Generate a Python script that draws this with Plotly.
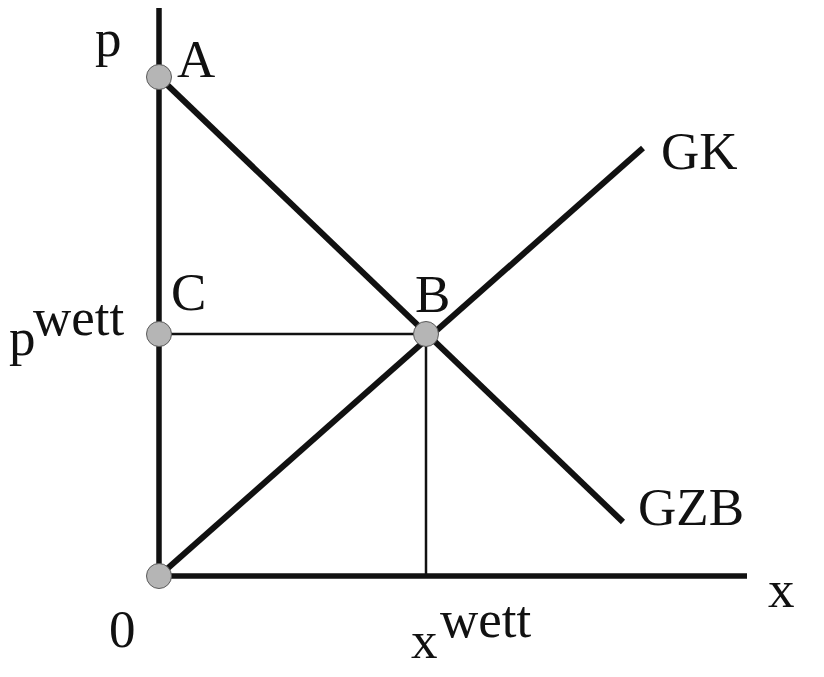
import plotly.graph_objects as go

# ---- data (model units) ----
p_A = 9.98            # price intercept of demand (point A)
p_wett = 4.84         # equilibrium price (point C / B)
x_wett = 5.34         # equilibrium quantity (point B)
gk_x = [0.0, 9.68]    # supply curve GK
gk_p = [0.0, 8.56]
gzb_x = [0.0, 9.28]   # demand curve GZB
gzb_p = [9.98, 1.08]
x_axis_end = 11.76
p_axis_end = 11.5

point_x = [0.0, 0.0, x_wett, 0.0]
point_p = [p_A, p_wett, p_wett, 0.0]

INK = "#111111"
FONT = dict(family="Liberation Serif, Times New Roman, serif", size=53, color=INK)

# page has an 8px body margin; place origin so it lands at page pixel (159, 576)
W, H = 808, 661
OX, OY = 151, 568
S = 50.0

fig = go.Figure()

# axes
fig.add_trace(go.Scatter(x=[0, 0], y=[0, p_axis_end], mode="lines",
                         line=dict(color=INK, width=5.5), hoverinfo="skip"))
fig.add_trace(go.Scatter(x=[0, x_axis_end], y=[0, 0], mode="lines",
                         line=dict(color=INK, width=5.5), hoverinfo="skip"))
# guide lines
fig.add_trace(go.Scatter(x=[0, x_wett], y=[p_wett, p_wett], mode="lines",
                         line=dict(color=INK, width=2.5), hoverinfo="skip"))
fig.add_trace(go.Scatter(x=[x_wett, x_wett], y=[p_wett, 0], mode="lines",
                         line=dict(color=INK, width=2.5), hoverinfo="skip"))
# curves
fig.add_trace(go.Scatter(x=gk_x, y=gk_p, mode="lines",
                         line=dict(color=INK, width=6), hoverinfo="skip"))
fig.add_trace(go.Scatter(x=gzb_x, y=gzb_p, mode="lines",
                         line=dict(color=INK, width=6), hoverinfo="skip"))
# points
fig.add_trace(go.Scatter(x=point_x, y=point_p, mode="markers",
                         marker=dict(size=25, color="#b5b5b5",
                                     line=dict(color="#5a5a5a", width=1)),
                         hoverinfo="skip", cliponaxis=False))

def label(text, x, y, dx, dy):
    fig.add_annotation(x=x, y=y, text=text, showarrow=False, xshift=dx, yshift=dy,
                       xanchor="center", yanchor="middle", font=FONT)

label("p", 0, p_A, -51, 39)
label("A", 0, p_A, 37, 18)
label("C", 0, p_wett, 29, 42)
label("B", x_wett, p_wett, 6, 40)
label("p", 0, p_wett, -137, -3)
label("wett", 0, p_wett, -80, 17)
label("GK", gk_x[1], gk_p[1], 56, -3)
label("GZB", gzb_x[1], gzb_p[1], 68, 15)
label("x", x_axis_end, 0, 34, -13)
label("0", 0, 0, -37, -53)
label("x", x_wett, 0, -1.5, -64)
label("wett", x_wett, 0, 60, -43)

fig.update_layout(
    width=W, height=H,
    margin=dict(l=0, r=0, t=0, b=0),
    paper_bgcolor="white", plot_bgcolor="white",
    showlegend=False,
    xaxis=dict(range=[-OX / S, (W - OX) / S], visible=False, fixedrange=True),
    yaxis=dict(range=[-(H - OY) / S, OY / S], visible=False, fixedrange=True),
)

fig.write_html("out.html")
